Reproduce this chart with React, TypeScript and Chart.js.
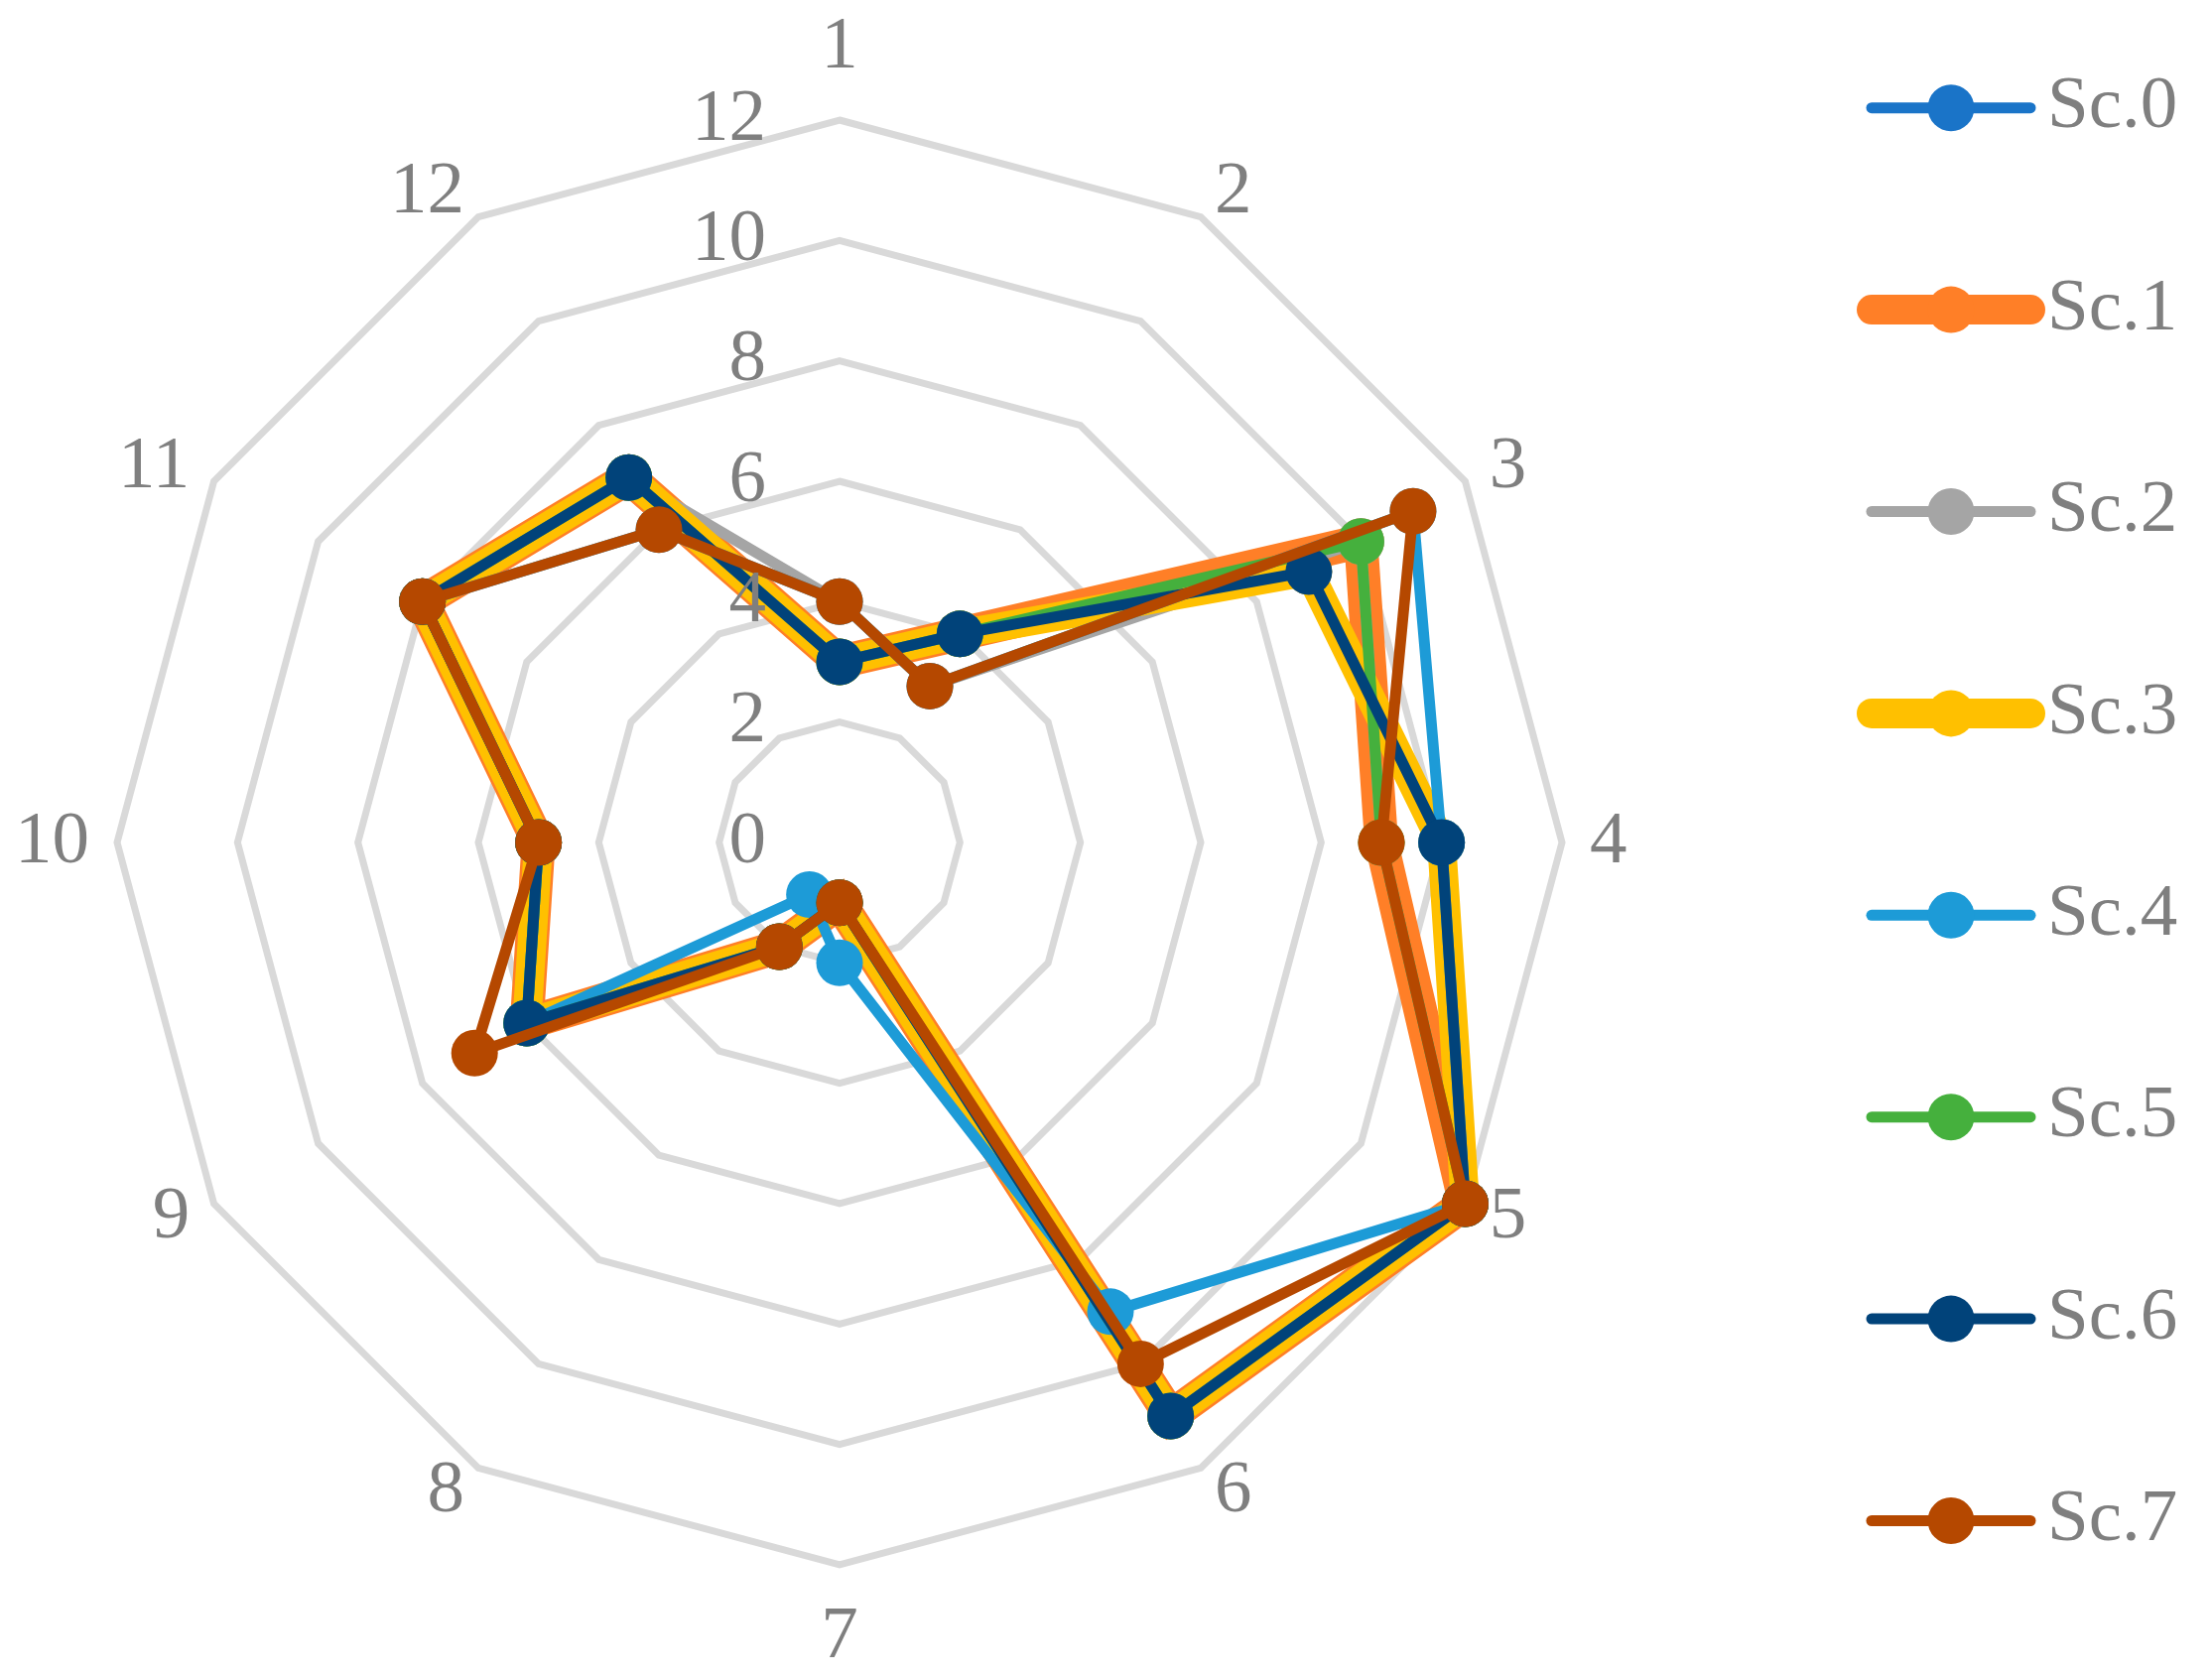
import React, { useEffect, useRef } from "react";
import { Chart, registerables } from "chart.js";

Chart.register(...registerables);

// ---- data ----
const axisLabels = ["1", "2", "3", "4", "5", "6", "7", "8", "9", "10", "11", "12"];
const tickValues = [0, 2, 4, 6, 8, 10, 12];
const seriesNames = ["Sc.0", "Sc.1", "Sc.2", "Sc.3", "Sc.4", "Sc.5", "Sc.6", "Sc.7"];

const sc0 = [3, 4, 9, 10, 12, 11, 1, 2, 6, 5, 8, 7];
const sc1 = [3, 4, 10, 9, 12, 11, 1, 2, 6, 5, 8, 7];
const sc2 = [4, 3, 10, 9, 12, 11, 1, 2, 6, 5, 8, 7];
const sc3 = [3, 4, 9, 10, 12, 11, 1, 2, 6, 5, 8, 7];
const sc4 = [4, 3, 11, 10, 12, 9, 2, 1, 6, 5, 8, 6];
const sc5 = [3, 4, 10, 9, 12, 11, 1, 2, 6, 5, 8, 7];
const sc6 = [3, 4, 9, 10, 12, 11, 1, 2, 6, 5, 8, 7];
const sc7 = [4, 3, 11, 9, 12, 10, 1, 2, 7, 5, 8, 6];
const seriesValues = [sc0, sc1, sc2, sc3, sc4, sc5, sc6, sc7];

const seriesColors = ["#1A74C8", "#FF7F27", "#A5A5A5", "#FFC000", "#1D9BD7", "#45B03D", "#01437A", "#B54800"];
const seriesLineWidths = [11, 34, 11, 29, 11, 11, 11, 11];
const legendLineWidths = [11, 30, 11, 30, 11, 11, 11, 11];

const TEXT_COLOR = "#7F7F7F";
const FONT = '75px "Liberation Serif", "Times New Roman", serif';
const POINT_RADIUS = 23.5;

const overlayPlugin = {
  id: "overlay",
  afterDatasetsDraw(chart: any) {
    const scale = chart.scales.r;
    const ctx = chart.ctx as CanvasRenderingContext2D;
    ctx.save();
    ctx.font = FONT;
    ctx.fillStyle = TEXT_COLOR;

    // value tick labels, left of the vertical axis
    ctx.textAlign = "right";
    ctx.textBaseline = "middle";
    tickValues.forEach((v) => {
      const d = scale.getDistanceFromCenterForValue(v);
      ctx.fillText(String(v), scale.xCenter - 74, scale.yCenter - d);
    });

    // category (point) labels
    const n = axisLabels.length;
    const boxH = 90;
    axisLabels.forEach((lab, i) => {
      const p = scale.getPointPosition(i, scale.drawingArea + 28);
      const deg = Math.round((i * 360) / n) % 360;
      let align: CanvasTextAlign = "center";
      if (deg > 0 && deg < 180) align = "left";
      else if (deg > 180) align = "right";
      let top = p.y;
      if (deg === 0) top -= boxH;
      else if (deg !== 180) top -= boxH / 2;
      ctx.textAlign = align;
      ctx.textBaseline = "middle";
      ctx.fillText(lab, p.x, top + boxH / 2);
    });
    ctx.restore();
  },
  afterDraw(chart: any) {
    const ctx = chart.ctx as CanvasRenderingContext2D;
    ctx.save();
    const x0 = 1886;
    const x1 = 2046;
    const xm = 1966;
    seriesNames.forEach((name, i) => {
      const y = 108.7 + i * 203.4;
      ctx.strokeStyle = seriesColors[i];
      ctx.lineWidth = legendLineWidths[i];
      ctx.lineCap = "round";
      ctx.beginPath();
      ctx.moveTo(x0, y);
      ctx.lineTo(x1, y);
      ctx.stroke();
      ctx.fillStyle = seriesColors[i];
      ctx.beginPath();
      ctx.arc(xm, y, POINT_RADIUS, 0, Math.PI * 2);
      ctx.fill();
      ctx.font = FONT;
      ctx.fillStyle = TEXT_COLOR;
      ctx.textAlign = "left";
      ctx.textBaseline = "middle";
      ctx.fillText(name, 2063, y);
    });
    ctx.restore();
  },
};

export default function App() {
  const canvasRef = useRef<HTMLCanvasElement | null>(null);

  useEffect(() => {
    if (!canvasRef.current) return;
    const datasets = seriesNames.map((name, i) => ({
      label: name,
      data: seriesValues[i],
      borderColor: seriesColors[i],
      backgroundColor: seriesColors[i],
      borderWidth: seriesLineWidths[i],
      borderJoinStyle: "miter" as const,
      fill: false,
      tension: 0,
      pointRadius: POINT_RADIUS,
      pointHoverRadius: POINT_RADIUS,
      pointBackgroundColor: seriesColors[i],
      pointBorderColor: seriesColors[i],
      pointBorderWidth: 0,
      order: seriesNames.length - 1 - i,
    }));

    const chart = new Chart(canvasRef.current, {
      type: "radar",
      data: { labels: axisLabels, datasets },
      options: {
        responsive: false,
        animation: false,
        events: [],
        layout: { padding: { left: 118, right: 655, top: 121, bottom: 114 } },
        plugins: {
          legend: { display: false },
          tooltip: { enabled: false },
          title: { display: false },
        },
        scales: {
          r: {
            min: 0,
            max: 12,
            beginAtZero: true,
            ticks: { display: false, stepSize: 2 },
            pointLabels: { display: false },
            angleLines: { display: false },
            grid: { color: "#D9D9D9", lineWidth: 7 },
          },
        },
      },
      plugins: [overlayPlugin],
    } as any);

    return () => chart.destroy();
  }, []);

  return (
    <div style={{ position: "absolute", left: 0, top: 0, width: 2229, height: 1691, background: "#fff" }}>
      <canvas ref={canvasRef} width={2229} height={1691} style={{ display: "block" }} />
    </div>
  );
}
